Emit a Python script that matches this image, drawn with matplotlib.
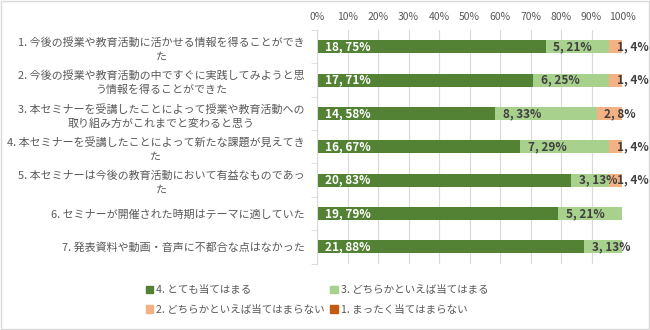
import numpy as np
import matplotlib.pyplot as plt
from matplotlib.patches import Patch, Rectangle

plt.rcParams['font.family'] = ['Noto Sans CJK JP', 'DejaVu Sans']

# 設問ラベル（改行位置はグラフ上の折り返しに合わせる）
questions = [
    "1. 今後の授業や教育活動に活かせる情報を得ることができ\nた",
    "2. 今後の授業や教育活動の中ですぐに実践してみようと思\nう情報を得ることができた",
    "3. 本セミナーを受講したことによって授業や教育活動への\n取り組み方がこれまでと変わると思う",
    "4. 本セミナーを受講したことによって新たな課題が見えてき\nた",
    "5. 本セミナーは今後の教育活動において有益なものであっ\nた",
    "6. セミナーが開催された時期はテーマに適していた",
    "7. 発表資料や動画・音声に不都合な点はなかった",
]

answers = ["4. とても当てはまる", "3. どちらかといえば当てはまる",
           "2. どちらかといえば当てはまらない", "1. まったく当てはまらない"]

# 回答数
n_4 = [18, 17, 14, 16, 20, 19, 21]
n_3 = [5, 6, 8, 7, 3, 5, 3]
n_2 = [1, 1, 2, 1, 1, 0, 0]
n_1 = [0, 0, 0, 0, 0, 0, 0]

colors = ['#548235', '#A9D18E', '#F4B183', '#C55A11']
label_colors = ['white', '#404040', '#404040', '#404040']

counts = np.array([n_4, n_3, n_2, n_1], dtype=float)
totals = counts.sum(axis=0)
shares = counts / totals

fig = plt.figure(figsize=(6.5, 3.3), dpi=100)
ax = fig.add_axes([317 / 650, 1 - 263.5 / 330, 305 / 650, 233.5 / 330])

y = np.arange(len(questions))
left = np.zeros(len(questions))
for k in range(len(answers)):
    ax.barh(y, shares[k], left=left, height=0.39, color=colors[k],
            label=answers[k], zorder=2)
    for i in range(len(questions)):
        if counts[k, i] > 0:
            pct = int(np.floor(shares[k, i] * 100 + 0.5))  # 四捨五入
            ax.annotate(f"{int(counts[k, i])}, {pct}%",
                        xy=(left[i], y[i]), xytext=(5.5, 0),
                        textcoords='offset points', ha='left', va='center',
                        fontsize=8.5, fontweight='bold',
                        color=label_colors[k], zorder=3)
    left += shares[k]

ax.set_xlim(0, 1)
ax.set_ylim(len(questions) - 0.5, -0.5)
ax.set_xticks(np.linspace(0, 1, 11))
ax.set_xticklabels([f"{v}%" for v in range(0, 101, 10)])
ax.xaxis.tick_top()
ax.tick_params(axis='x', length=0, pad=6, labelsize=7.5, labelcolor='#595959')
ax.grid(axis='x', color='#D9D9D9', linewidth=0.8, zorder=0)

ax.set_yticks(y)
ax.set_yticklabels(questions, fontsize=7.9, color='#595959',
                   multialignment='center', linespacing=1.45)
ax.set_yticks(np.arange(len(questions) + 1) - 0.5, minor=True)
ax.tick_params(axis='y', which='major', length=0, pad=9)
ax.tick_params(axis='y', which='minor', length=4, color='#D9D9D9')

for side in ['top', 'right', 'bottom']:
    ax.spines[side].set_visible(False)
ax.spines['left'].set_color('#D9D9D9')

handles = [Patch(color=c) for c in colors]
order = [0, 2, 1, 3]
fig.legend([handles[i] for i in order], [answers[i] for i in order],
           loc='center', bbox_to_anchor=(317 / 650, 1 - 300 / 330), ncol=2,
           frameon=False, fontsize=7.6, labelcolor='#595959',
           handlelength=0.7, handleheight=0.7, handletextpad=0.3,
           columnspacing=0.5, labelspacing=0.9)

fig.patches.append(Rectangle((0.001, 0.002), 0.997, 0.995,
                             transform=fig.transFigure, fill=False,
                             edgecolor='#D9D9D9', linewidth=1))

fig.savefig('out.png', dpi=100)
